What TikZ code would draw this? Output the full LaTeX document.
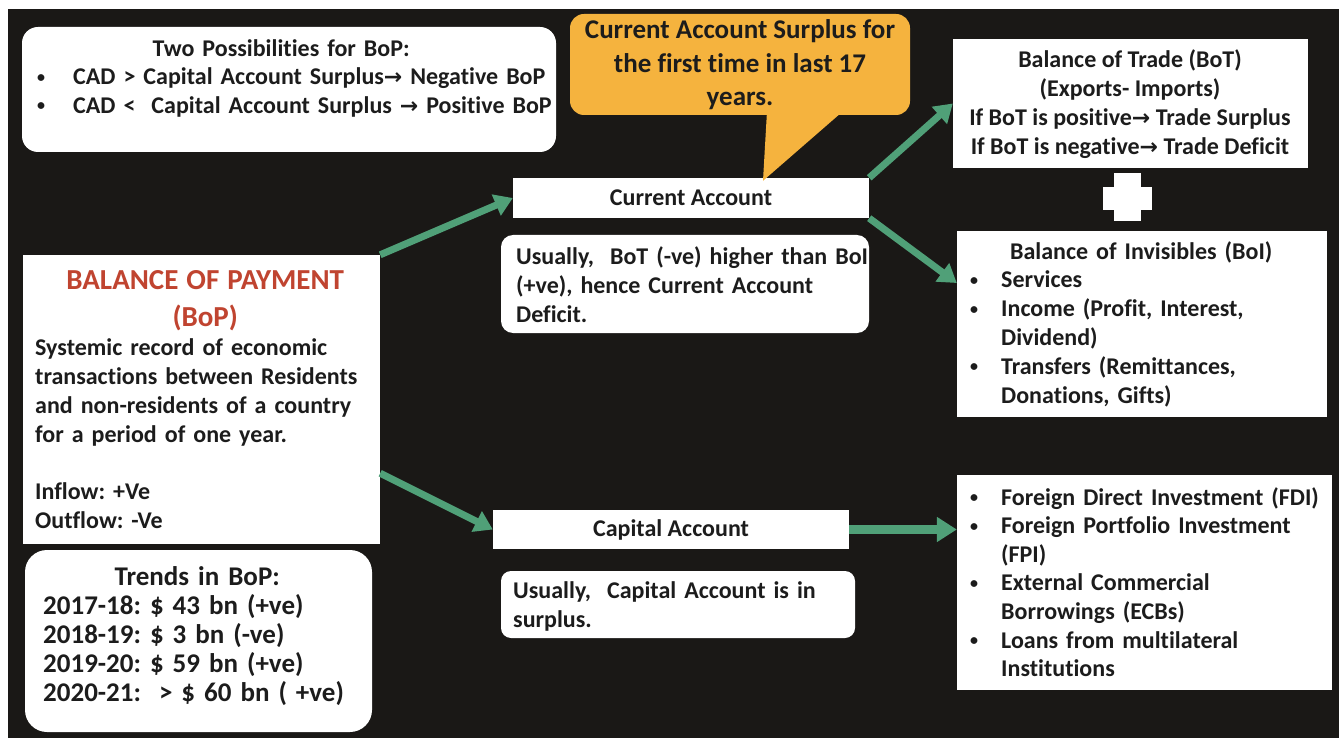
\documentclass[tikz,border=0pt]{standalone}
\usepackage{fontspec}
\setmainfont{Carlito}[Ligatures=NoCommon]
\newfontfamily\symfnt{DejaVu Sans}
\usetikzlibrary{arrows.meta,calc}
\definecolor{bgc}{RGB}{26,24,22}
\definecolor{orng}{RGB}{245,179,62}
\definecolor{grn}{RGB}{80,160,120}
\definecolor{txt}{RGB}{28,28,28}
\definecolor{ttl}{RGB}{192,68,48}
\newcommand{\fs}[2]{\fontsize{#1}{#2}\selectfont}
\newcommand{\rar}{{\symfnt\bfseries\fontsize{22}{22}\selectfont →}}
\newcommand{\bl}[1][31pt]{\makebox[#1][l]{\raisebox{2.5pt}{\fs{16}{16}•}}}
\newcommand{\ind}[1][31pt]{\hspace*{#1}}
\newcommand{\ctr}[2][0pt]{\makebox[\hsize][c]{\hspace*{#1}#2}}
\frenchspacing
\begin{document}
\begin{tikzpicture}[x=1pt,y=-1pt,
  wbox/.style={fill=white, inner sep=0pt, draw=none},
  tnode/.style={inner sep=0pt, text=txt, font=\bfseries\frenchspacing\fs{24}{29}},
  garrow/.style={draw=grn, line width=7pt, -{Triangle[length=18pt,width=22pt]}},
]
\useasboundingbox (0,0) rectangle (1339,738);
\fill[white] (0,0) rectangle (1339,738);
\fill[bgc] (8,9) rectangle (1339,738);

% Two possibilities
\node[wbox, rounded corners=16pt, minimum width=534pt, minimum height=125pt] (poss) at (289,89.5) {};
\node[tnode, anchor=west, text width=520pt, align=left, font=\bfseries\frenchspacing\fs{24}{28.5}] (posst) at (37,78)
 {\ctr[-32pt]{Two Possibilities for BoP:}\\
  \bl[36pt]CAD > Capital Account Surplus\rar\ Negative BoP\\
  \bl[36pt]CAD <\ \ Capital Account Surplus \rar\ Positive BoP};

% Callout
\node[fill=orng, rounded corners=14pt, minimum width=340pt, minimum height=101pt, inner sep=0pt] (call) at (740,64.5) {};
\node[tnode, align=center, font=\bfseries\frenchspacing\fs{27}{33.5}] (callt) at (740,65)
 {Current Account Surplus for\\the first time in last 17\\years.};

% Current account
\node[wbox, minimum width=356pt, minimum height=40pt] (ca) at (691,198) {};
\node[tnode] (cat) at (ca) {Current Account};
\fill[orng] ([xshift=27pt,yshift=4pt]call.south) -- ([xshift=103pt,yshift=4pt]call.south) -- ([xshift=72pt,yshift=-3pt]ca.north) -- cycle;

\node[wbox, rounded corners=12pt, minimum width=368pt, minimum height=98pt] (cau) at (685,284) {};
\node[tnode, anchor=west, text width=370pt, align=left] (caut) at (516,285)
 {Usually,\ \ BoT (-ve) higher than BoI\\(+ve), hence Current Account\\Deficit.};

% BoT
\node[wbox, minimum width=355pt, minimum height=129pt] (bot) at (1130.5,103.5) {};
\node[tnode, align=center] (bott) at (1130,104)
 {Balance of Trade (BoT)\\(Exports- Imports)\\If BoT is positive\rar\ Trade Surplus\\If BoT is negative\rar\ Trade Deficit};

% plus
\fill[white] (1103,187) rectangle (1152,210);
\fill[white] (1114,173) rectangle (1141,221);

% BoI
\node[wbox, minimum width=370pt, minimum height=186pt] (boi) at (1142,324) {};
\node[tnode, anchor=west, text width=352pt, align=left, font=\bfseries\frenchspacing\fs{24}{28.8}] (boit) at (970,324)
 {\ctr[-10pt]{Balance of Invisibles (BoI)}\\
  \bl Services\\
  \bl Income (Profit, Interest,\\
  \ind Dividend)\\
  \bl Transfers (Remittances,\\
  \ind Donations, Gifts)};

% BoP
\node[wbox, minimum width=357pt, minimum height=289pt] (bop) at (201.5,399.5) {};
\node[tnode, anchor=west, text width=340pt] (bopt) at (35,399.5)
 {{\fs{29}{37}\color{ttl}\centering BALANCE OF PAYMENT\\(BoP)\par}
  {\raggedright Systemic record of economic\\transactions between Residents\\and non-residents of a country\\for a period of one year.\\[28pt]
  Inflow: +Ve\\Outflow: -Ve\par}};

% Trends
\node[wbox, rounded corners=22pt, minimum width=347pt, minimum height=182pt] (trd) at (198.5,641) {};
\node[tnode, anchor=west, text width=310pt, align=left, font=\bfseries\frenchspacing\fs{27}{29}] (trdt) at (43,636)
 {\ctr[-2pt]{Trends in BoP:}\\
  2017-18: \$ 43 bn (+ve)\\
  2018-19: \$ 3 bn (-ve)\\
  2019-20: \$ 59 bn (+ve)\\
  2020-21:\ \ > \$ 60 bn (\ +ve)};

% Capital account
\node[wbox, minimum width=356pt, minimum height=39pt] (cap) at (671,529.5) {};
\node[tnode] (capt) at (cap) {Capital Account};
\node[wbox, rounded corners=10pt, minimum width=354pt, minimum height=67pt] (capu) at (678,604.5) {};
\node[tnode, anchor=west, text width=360pt, align=left] (caput) at (513,606)
 {Usually,\ \ Capital Account is in\\surplus.};

% FDI
\node[wbox, minimum width=375pt, minimum height=215pt] (fdi) at (1144.5,582.5) {};
\node[tnode, anchor=west, text width=360pt, align=left, font=\bfseries\frenchspacing\fs{24}{28.6}] (fdit) at (970,582)
 {\bl Foreign Direct Investment (FDI)\\
  \bl Foreign Portfolio Investment\\
  \ind (FPI)\\
  \bl External Commercial\\
  \ind Borrowings (ECBs)\\
  \bl Loans from multilateral\\
  \ind Institutions};

% arrows
\draw[garrow] (bop.north east) -- (ca.west);
\draw[garrow] ([yshift=71pt]bop.south east) -- (cap.west);
\draw[garrow] (ca.north east) -- (bot.west);
\draw[garrow] (ca.south east) -- ([yshift=41pt]boi.west);
\draw[garrow, line width=8.5pt, -{Triangle[length=20pt,width=24pt]}] (cap.east) -- (cap.east -| fdi.west);
\end{tikzpicture}
\end{document}
